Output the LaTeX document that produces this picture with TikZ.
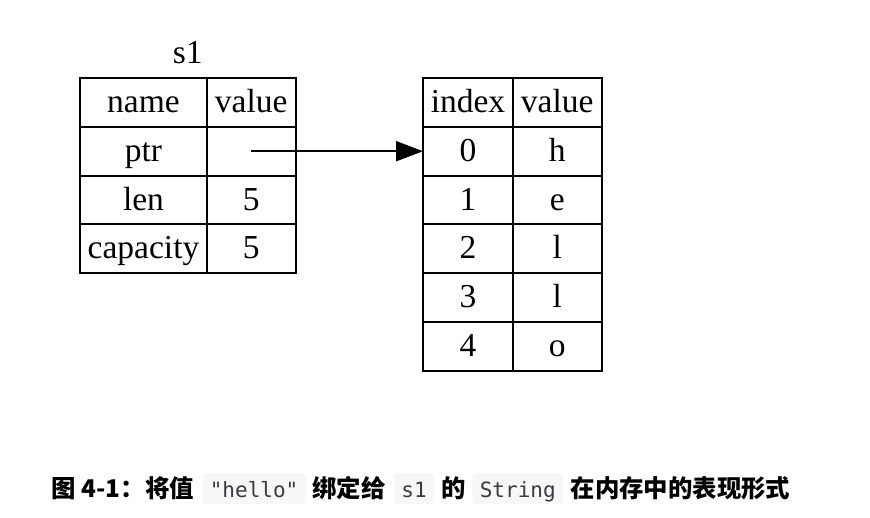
\documentclass[tikz,border=0pt]{standalone}
\usepackage{fontspec}
\setmainfont{Liberation Serif}
\newfontfamily\cjk{Noto Sans CJK SC}
\newfontfamily\codefont{DejaVu Sans Mono}
\usetikzlibrary{positioning, arrows.meta}
\definecolor{codebg}{HTML}{F6F7F6}
\definecolor{codefg}{HTML}{383A42}
\tikzstyle{cell} = [rectangle, draw=black, line width=2pt, outer sep=0pt, inner sep=0pt,
minimum height=48.8pt, text height=25pt, text depth=5pt, font=\fontsize{33.5}{40}\selectfont]
\tikzstyle{namecell} = [cell, minimum width=127pt]
\tikzstyle{valcell} = [cell, minimum width=88.5pt]
\tikzstyle{idxcell} = [cell, minimum width=90pt]
\tikzstyle{arrow} = [line width=2pt, -{Triangle[length=27pt, width=20pt]}]
\tikzstyle{captext} = [inner sep=0pt, font=\cjk\bfseries\fontsize{24.4}{30}\selectfont]
\tikzstyle{codebox} = [fill=codebg, rounded corners=4pt, inner xsep=7.5pt, inner ysep=6.5pt,
text height=18pt, text depth=0pt, text=codefg, font=\codefont\fontsize{21}{26}\selectfont]

\begin{document}
\begin{tikzpicture}[x=1pt, y=-1pt]

    \useasboundingbox (0,0) rectangle (870,517);

    % s1 table
    \node (s1) [anchor=base, font=\fontsize{33.5}{40}\selectfont] at (187.7,63) {s1};

    \node (name) [namecell, anchor=north west] at (80,78) {name};
    \node (namev) [valcell, right=0pt of name] {value};

    \node (ptr) [namecell, below=0pt of name] {ptr};
    \node (ptrv) [valcell, right=0pt of ptr] {};

    \node (len) [namecell, below=0pt of ptr] {len};
    \node (lenv) [valcell, right=0pt of len] {5};

    \node (capa) [namecell, below=0pt of len] {capacity};
    \node (capav) [valcell, right=0pt of capa] {5};

    % heap table
    \node (index) [idxcell, anchor=north west] at (423,78) {index};
    \node (indexv) [valcell, right=0pt of index] {value};

    \node (i0) [idxcell, below=0pt of index] {0};
    \node (i0v) [valcell, right=0pt of i0] {h};

    \node (i1) [idxcell, below=0pt of i0] {1};
    \node (i1v) [valcell, right=0pt of i1] {e};

    \node (i2) [idxcell, below=0pt of i1] {2};
    \node (i2v) [valcell, right=0pt of i2] {l};

    \node (i3) [idxcell, below=0pt of i2] {3};
    \node (i3v) [valcell, right=0pt of i3] {l};

    \node (i4) [idxcell, below=0pt of i3] {4};
    \node (i4v) [valcell, right=0pt of i4] {o};

    \draw[arrow] (ptrv.center) -- (i0.west);

    % caption
    \node (fig) [captext, anchor=base west] at (51.5,497.5) {图 4-1：将值};
    \node (hello) [codebox, base right=8pt of fig] {"hello"};
    \node (bind) [captext, base right=6pt of hello] {绑定给};
    \node (s1code) [codebox, base right=8pt of bind] {s1};
    \node (de) [captext, base right=7pt of s1code] {的};
    \node (strcode) [codebox, base right=6pt of de] {String};
    \node (rest) [captext, base right=7pt of strcode] {在内存中的表现形式};

\end{tikzpicture}
\end{document}
